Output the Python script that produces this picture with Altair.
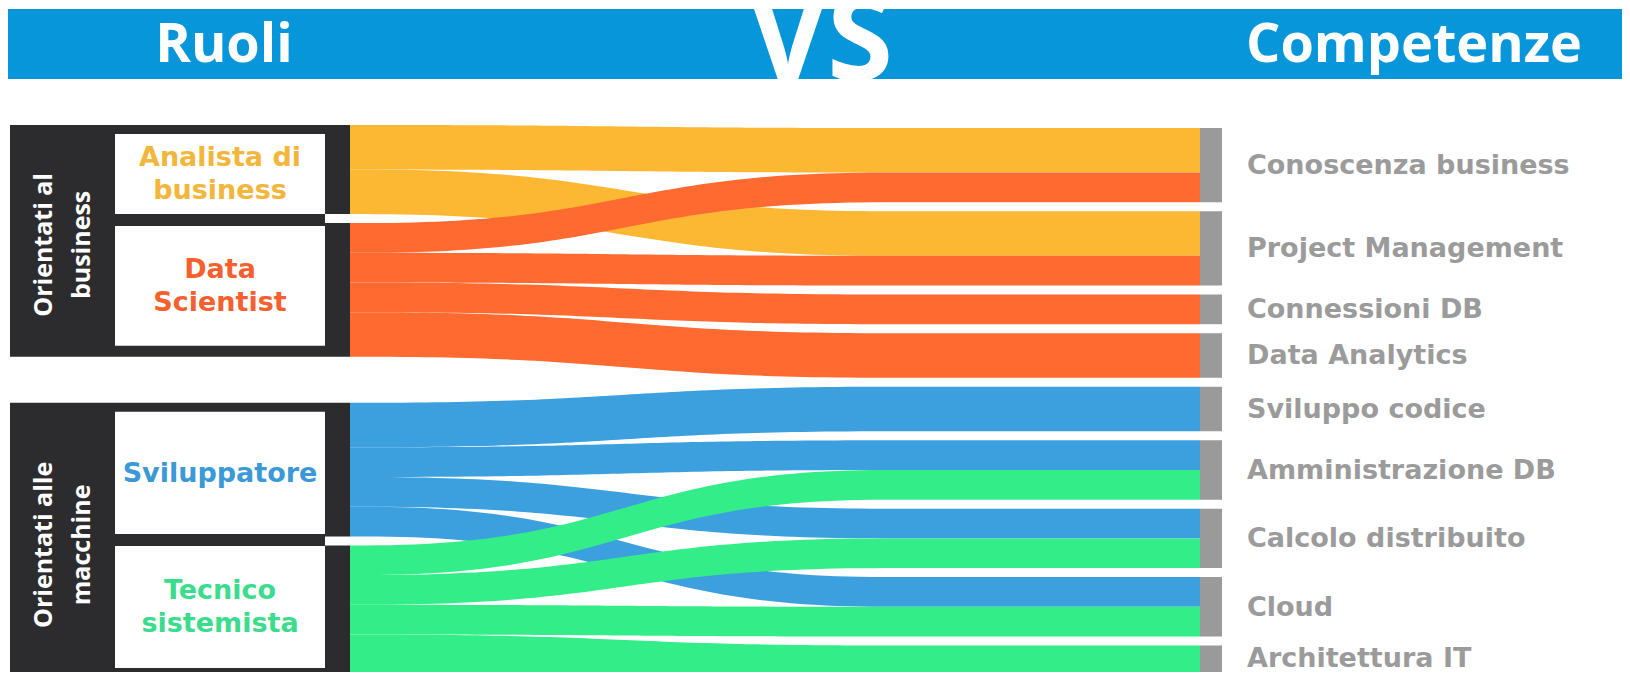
import altair as alt
import pandas as pd
import numpy as np

# ---------------- data ----------------
header_left = "Ruoli"
header_mid = "VS"
header_right = "Competenze"

group_labels = [["Orientati al", "business"], ["Orientati alle", "macchine"]]

roles = ["Analista di business", "Data Scientist", "Sviluppatore", "Tecnico sistemista"]
role_lines = [["Analista di", "business"], ["Data", "Scientist"], ["Sviluppatore"], ["Tecnico", "sistemista"]]
role_group = [0, 0, 1, 1]

skills = ["Conoscenza business", "Project Management", "Connessioni DB", "Data Analytics",
          "Sviluppo codice", "Amministrazione DB", "Calcolo distribuito", "Cloud", "Architettura IT"]

link_source = [0, 0, 1, 1, 1, 1, 2, 2, 2, 2, 3, 3, 3, 3]
link_target = [0, 1, 0, 1, 2, 3, 4, 5, 6, 7, 5, 6, 7, 8]
link_value = [3, 3, 2, 2, 2, 3, 3, 2, 2, 2, 2, 2, 2, 3]

# ---------------- style ----------------
role_flow_colors = ["#FDB833", "#FE6A30", "#3BA0DD", "#33EE88"]
role_text_colors = ["#F2B63C", "#F5602E", "#3A99D6", "#3BDC8C"]
BAND_COLOR = "#0796DA"
DARK = "#2C2C2E"
NODE_GRAY = "#9A9A9A"
LABEL_GRAY = "#9B9B9B"

W, H = 1614, 664
M = 8          # page margin
PX = 14.85     # pixels per value unit

SRC_TOP, SRC_GAP, SRC_GROUP_GAP = 125, 9, 46
TGT_TOP, TGT_GAP = 128, 9
X_SRC, X_CA, X_CB, X_TGT, X_TGT2 = 350, 365, 885, 1200, 1222
X_BOX, X_WHITE, X_WHITE2, X_NODE = 10, 115, 325, 325

# ---------------- layout ----------------
n_src, n_tgt = len(roles), len(skills)
src_total = [sum(v for s, v in zip(link_source, link_value) if s == i) for i in range(n_src)]
tgt_total = [sum(v for t, v in zip(link_target, link_value) if t == j) for j in range(n_tgt)]

src_top, y = [], SRC_TOP
for i in range(n_src):
    if i > 0:
        y += SRC_GROUP_GAP if role_group[i] != role_group[i - 1] else SRC_GAP
    src_top.append(y)
    y += src_total[i] * PX
tgt_top, y = [], TGT_TOP
for j in range(n_tgt):
    if j > 0:
        y += TGT_GAP
    tgt_top.append(y)
    y += tgt_total[j] * PX

order_src = sorted(range(len(link_value)), key=lambda k: (link_source[k], link_target[k]))
order_tgt = sorted(range(len(link_value)), key=lambda k: (link_target[k], link_source[k]))
ys0, yt0 = {}, {}
off = list(src_top)
for k in order_src:
    ys0[k] = off[link_source[k]]
    off[link_source[k]] += link_value[k] * PX
off = list(tgt_top)
for k in order_tgt:
    yt0[k] = off[link_target[k]]
    off[link_target[k]] += link_value[k] * PX

u = np.linspace(0, 1, 61)
L = X_CB - X_CA
xc = X_CA + L * (1.5 * u - 1.5 * u ** 2 + u ** 3)
sc = 3 * u ** 2 - 2 * u ** 3
xs_all = [float(X_SRC)] + [float(v) for v in xc] + [float(X_TGT)]
s_all = [0.0] + [float(v) for v in sc] + [1.0]


def link_frame(k):
    rows = []
    for xx, ss in zip(xs_all, s_all):
        top = ys0[k] + (yt0[k] - ys0[k]) * ss
        rows.append({"x": xx - M, "y": top - M, "y2": top + link_value[k] * PX - M})
    return pd.DataFrame(rows)


# rectangles (header band, dark boxes, white boxes, target nodes)
rects = [{"x": 7 - M, "x2": 1630 - M, "y": 9 - M, "y2": 79 - M, "c": BAND_COLOR}]
group_span = []
for g in range(len(group_labels)):
    idx = [i for i in range(n_src) if role_group[i] == g]
    gtop = src_top[idx[0]]
    gbot = src_top[idx[-1]] + src_total[idx[-1]] * PX
    group_span.append((gtop, gbot, idx))
    rects.append({"x": X_BOX - M, "x2": X_NODE - M, "y": gtop - M, "y2": gbot - M, "c": DARK})
for i in range(n_src):
    rects.append({"x": X_NODE - M, "x2": X_SRC - M, "y": src_top[i] - M,
                  "y2": src_top[i] + src_total[i] * PX - M, "c": DARK})
white_boxes = {}
for gtop, gbot, idx in group_span:
    inner_top, inner_bot, gap = gtop + 9, gbot - 11, 12
    avail = inner_bot - inner_top - gap * (len(idx) - 1)
    tot = sum(src_total[i] for i in idx)
    yy = inner_top
    for i in idx:
        hgt = avail * src_total[i] / tot
        white_boxes[i] = (yy, yy + hgt)
        rects.append({"x": X_WHITE - M, "x2": X_WHITE2 - M, "y": yy - M, "y2": yy + hgt - M, "c": "#FFFFFF"})
        yy += hgt + gap
for j in range(n_tgt):
    rects.append({"x": X_TGT - M, "x2": X_TGT2 - M, "y": tgt_top[j] - M,
                  "y2": tgt_top[j] + tgt_total[j] * PX - M, "c": NODE_GRAY})
rects = pd.DataFrame(rects)

# texts
header = pd.DataFrame([
    {"x": 224 - M, "y": 62 - M, "t": header_left},
    {"x": 1414 - M, "y": 62 - M, "t": header_right},
])
header_vs = pd.DataFrame([{"x": 821 - M, "y": 80 - M, "t": header_mid}])

grp_rows = []
for g, lines in enumerate(group_labels):
    gtop, gbot, idx = group_span[g]
    cy = (gtop + gbot) / 2 + 4
    for li, line in enumerate(lines):
        grp_rows.append({"x": (52 + 38 * li) - M, "y": cy - M, "t": line})
grp = pd.DataFrame(grp_rows)

role_rows = []
for i in range(n_src):
    b0, b1 = white_boxes[i]
    cy = (b0 + b1) / 2
    n = len(role_lines[i])
    for li, line in enumerate(role_lines[i]):
        role_rows.append({"x": 220 - M, "y": cy + (li - (n - 1) / 2) * 33 + 1 - M,
                          "t": line, "c": role_text_colors[i]})
role_txt = pd.DataFrame(role_rows)

skill_txt = pd.DataFrame([
    {"x": 1247 - M,
     "y": min(tgt_top[j] + tgt_total[j] * PX / 2 + 1 - M, H - 13),
     "t": skills[j]}
    for j in range(n_tgt)
])

# ---------------- chart ----------------
xs = alt.Scale(domain=[0, W], nice=False, zero=False)
ys = alt.Scale(domain=[0, H], nice=False, zero=False, reverse=True)


def X(f="x"):
    return alt.X(f"{f}:Q", scale=xs, axis=None)


def Y(f="y"):
    return alt.Y(f"{f}:Q", scale=ys, axis=None)


rect_layer = alt.Chart(rects).mark_rect().encode(
    x=X(), x2="x2:Q", y=Y(), y2="y2:Q", color=alt.Color("c:N", scale=None))

link_layers = []
for k in order_src:
    link_layers.append(
        alt.Chart(link_frame(k)).mark_area(
            interpolate="linear", orient="vertical", opacity=1,
            color=role_flow_colors[link_source[k]]).encode(
            x=X(), y=alt.Y("y:Q", scale=ys, axis=None, stack=None), y2="y2:Q"))

header_layers = [
    alt.Chart(header).mark_text(
        font="Open Sans", fontWeight="bold", fontSize=54, color="#FFFFFF",
        align="center", baseline="alphabetic").encode(x=X(), y=Y(), text="t:N"),
    alt.Chart(header_vs).mark_text(
        font="Open Sans", fontWeight="bold", fontSize=120, color="#FFFFFF",
        align="center", baseline="alphabetic").encode(x=X(), y=Y(), text="t:N"),
]

grp_layer = alt.Chart(grp).mark_text(
    font="Open Sans", fontWeight="bold", fontSize=25,
    color="#FFFFFF", angle=270, align="center", baseline="alphabetic").encode(
    x=X(), y=Y(), text="t:N")

role_layer = alt.Chart(role_txt).mark_text(
    font="DejaVu Sans", fontWeight="bold", fontSize=27, align="center",
    baseline="middle").encode(x=X(), y=Y(), text="t:N", color=alt.Color("c:N", scale=None))

skill_layer = alt.Chart(skill_txt).mark_text(
    font="DejaVu Sans", fontWeight="bold", fontSize=27, align="left",
    baseline="middle", color=LABEL_GRAY).encode(x=X(), y=Y(), text="t:N")

chart = alt.layer(
    rect_layer, *link_layers, *header_layers, grp_layer, role_layer, skill_layer
).properties(
    width=W, height=H, padding=0, autosize=alt.AutoSizeParams(type="none"),
    background="#FFFFFF"
).configure_view(stroke=None)

chart.save("out.html", embed_options={"renderer": "svg", "actions": False})
